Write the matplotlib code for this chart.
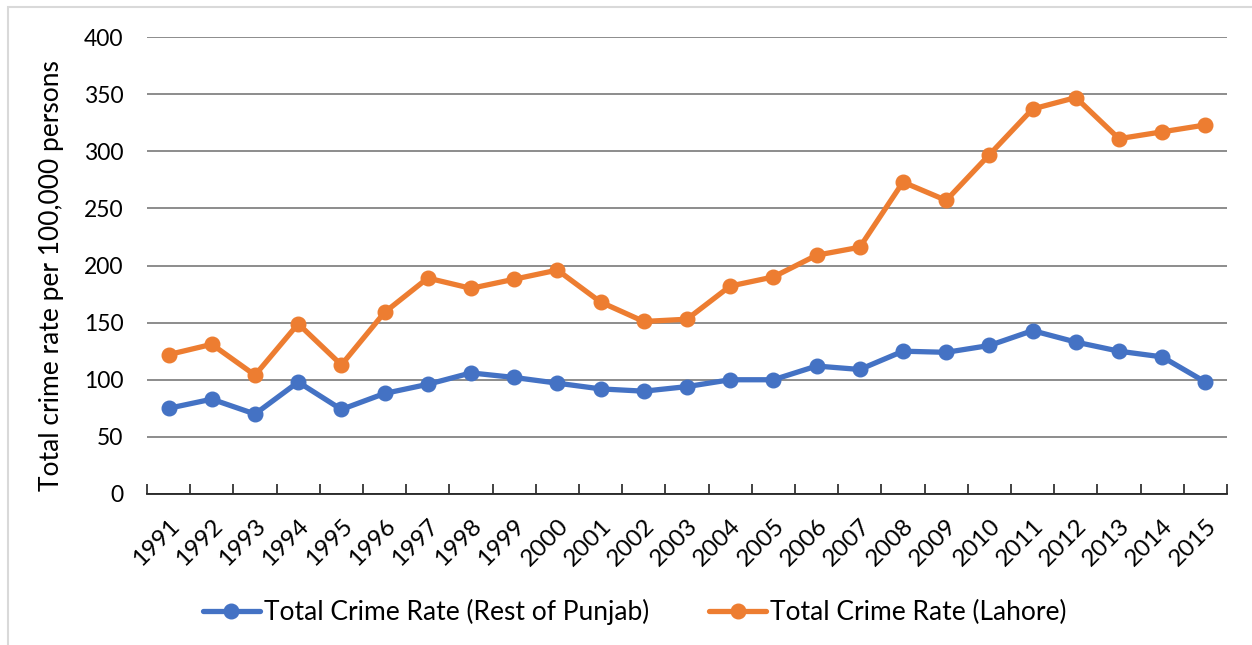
import numpy as np
import matplotlib.pyplot as plt
from matplotlib.patches import Rectangle

plt.rcParams['font.family'] = ['Lato', 'DejaVu Sans']

years = [str(y) for y in range(1991, 2016)]
rest_of_punjab = [75, 83, 70, 98, 74, 88, 96, 106, 102, 97, 92, 90, 94, 100, 100,
                  112, 109, 125, 124, 130, 143, 133, 125, 120, 98]
lahore = [122, 131, 104, 149, 113, 159, 189, 180, 188, 196, 168, 151, 153, 182, 190,
          209, 216, 273, 257, 297, 337, 347, 311, 317, 323]

blue = '#4472c4'
orange = '#ed7d31'
fs = 16.5

fig = plt.figure(figsize=(12.52, 6.45), dpi=100)
ax = fig.add_axes([147 / 1252, 1 - 494 / 645, (1227 - 147) / 1252, (494 - 37) / 645])

x = np.arange(len(years))
ax.plot(x, rest_of_punjab, color=blue, lw=3.8, marker='o', ms=10.5,
        label='Total Crime Rate (Rest of Punjab)', solid_capstyle='round', zorder=3)
ax.plot(x, lahore, color=orange, lw=3.8, marker='o', ms=10.5,
        label='Total Crime Rate (Lahore)', solid_capstyle='round', zorder=3)

ax.set_xlim(-0.5, len(years) - 0.5)
ax.set_ylim(0, 400)
ax.set_yticks(range(0, 401, 50))
ax.yaxis.grid(True, color='#8c8c8c', lw=1.4)
ax.set_axisbelow(True)
ax.tick_params(axis='y', length=0, pad=17, labelsize=fs)

ax.set_xticks(x)
ax.set_xticklabels(years, rotation=45, ha='right', rotation_mode='anchor', fontsize=17.5)
ax.tick_params(axis='x', which='major', length=0, pad=15)
ax.set_xticks(np.arange(-0.5, len(years), 1), minor=True)
ax.tick_params(axis='x', which='minor', direction='in', length=7, width=1.2, color='#222222')

for s in ['left', 'right', 'top']:
    ax.spines[s].set_visible(False)
ax.spines['bottom'].set_color('#222222')
ax.spines['bottom'].set_linewidth(1.3)

ax.set_ylabel('Total crime rate per 100,000 persons', fontsize=19)
ax.yaxis.set_label_coords(-0.077, 0.479)

fig.legend(loc='center', bbox_to_anchor=(0.507, 1 - 612 / 645), ncol=2, frameon=False,
           fontsize=19, handlelength=2.15, columnspacing=2.3, handletextpad=0.15)

# light outer frame (chart is cropped on right/bottom)
fig.patches.append(Rectangle((8 / 1252, -0.1), 1.2, 0.1 + 1 - 7 / 645, transform=fig.transFigure,
                             fill=False, edgecolor='#d9d9d9', lw=1.5))

fig.savefig('out.png', dpi=100)
